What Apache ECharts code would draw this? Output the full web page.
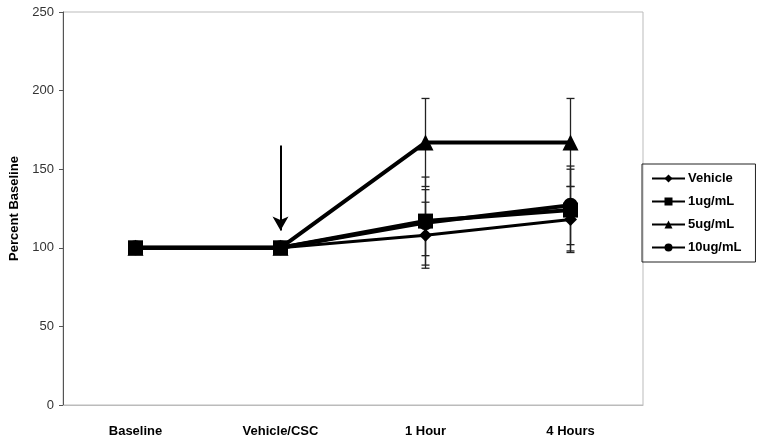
<!DOCTYPE html>
<html><head><meta charset="utf-8">
<script src="https://cdn.jsdelivr.net/npm/echarts@6/dist/echarts.min.js"></script>
<style>html,body{margin:0;padding:0;background:#fff}#c{width:765px;height:442px}</style>
</head><body><div id="c"></div>
<script>
const categories = ['Baseline', 'Vehicle/CSC', '1 Hour', '4 Hours'];
const seriesNames = ['Vehicle', '1ug/mL', '5ug/mL', '10ug/mL'];
const vehicle = [100, 100, 108, 118];
const ug1 = [100, 100, 117, 124];
const ug5 = [100, 100, 167, 167];
const ug10 = [100, 100, 116, 127];
const errVehicle = [0, 0, 21, 21];
const err1 = [0, 0, 28, 26];
const err5 = [0, 0, 28, 28];
const err10 = [0, 0, 21, 25];
const yTicks = [0, 50, 100, 150, 200, 250];
const arrowFrom = 165, arrowTo = 111, arrowCat = 1;

const values = [vehicle, ug1, ug5, ug10];
const errs = [errVehicle, err1, err5, err10];
const symbols = ['diamond', 'rect', 'triangle', 'circle'];
const sizes = [13, 15, 16, 15];
const widths = [3, 4, 4, 4];

const chart = echarts.init(document.getElementById('c'));
const errSeries = values.map((vals, i) => ({
  type: 'custom',
  name: 'err' + i,
  silent: true,
  z: 1,
  data: vals.map((v, j) => [j, v - errs[i][j], v + errs[i][j]]).filter((d, j) => errs[i][j] > 0),
  renderItem: function (params, api) {
    const x = api.value(0);
    const lo = api.coord([x, api.value(1)]);
    const hi = api.coord([x, api.value(2)]);
    const w = 4;
    const st = { stroke: '#222', lineWidth: 1.3 };
    return { type: 'group', children: [
      { type: 'line', shape: { x1: lo[0], y1: lo[1], x2: hi[0], y2: hi[1] }, style: st },
      { type: 'line', shape: { x1: lo[0] - w, y1: lo[1], x2: lo[0] + w, y2: lo[1] }, style: st },
      { type: 'line', shape: { x1: hi[0] - w, y1: hi[1], x2: hi[0] + w, y2: hi[1] }, style: st }
    ]};
  }
}));
const drawOrder = [3, 0, 2, 1];
const lineSeries = drawOrder.map((i, k) => ({
  type: 'line',
  name: seriesNames[i],
  data: values[i],
  symbol: symbols[i],
  symbolSize: sizes[i],
  z: 3 + k,
  itemStyle: { color: '#000' },
  lineStyle: { color: '#000', width: widths[i] },
  animation: false
}));
lineSeries[0].markLine = {
  silent: true,
  symbol: ['none', 'arrow'],
  symbolSize: [12, 14],
  label: { show: false },
  lineStyle: { color: '#000', width: 2, type: 'solid' },
  data: [[{ coord: [arrowCat, arrowFrom] }, { coord: [arrowCat, arrowTo] }]]
};

const font = 'Liberation Sans, Arial';
chart.setOption({
  animation: false,
  grid: { left: 63, right: 122, top: 12, bottom: 37, show: true, borderColor: '#bbb', borderWidth: 1 },
  legend: {
    data: seriesNames,
    orient: 'vertical',
    left: 642, top: 164,
    itemWidth: 33, itemHeight: 10, itemGap: 10,
    padding: [8, 14, 8, 9],
    borderColor: '#222', borderWidth: 1,
    textStyle: { fontFamily: font, fontWeight: 'bold', fontSize: 13, color: '#000', padding: [0, 0, 0, -2] }
  },
  xAxis: {
    type: 'category', data: categories, boundaryGap: true,
    axisLine: { show: true, lineStyle: { color: '#bbb' } },
    axisTick: { show: false },
    axisLabel: { fontFamily: font, fontWeight: 'bold', fontSize: 13, color: '#000', margin: 20 }
  },
  yAxis: {
    type: 'value', min: yTicks[0], max: yTicks[yTicks.length - 1], interval: 50,
    name: 'Percent Baseline', nameLocation: 'middle', nameGap: 42, nameRotate: 90,
    nameTextStyle: { fontFamily: font, fontWeight: 'bold', fontSize: 13, color: '#000' },
    axisLine: { show: true, lineStyle: { color: '#555' } },
    axisTick: { show: true, inside: false, length: 4, lineStyle: { color: '#555' } },
    splitLine: { show: false },
    axisLabel: { fontFamily: font, fontSize: 13, color: '#333', margin: 9 }
  },
  series: errSeries.concat(lineSeries)
});
</script></body></html>
